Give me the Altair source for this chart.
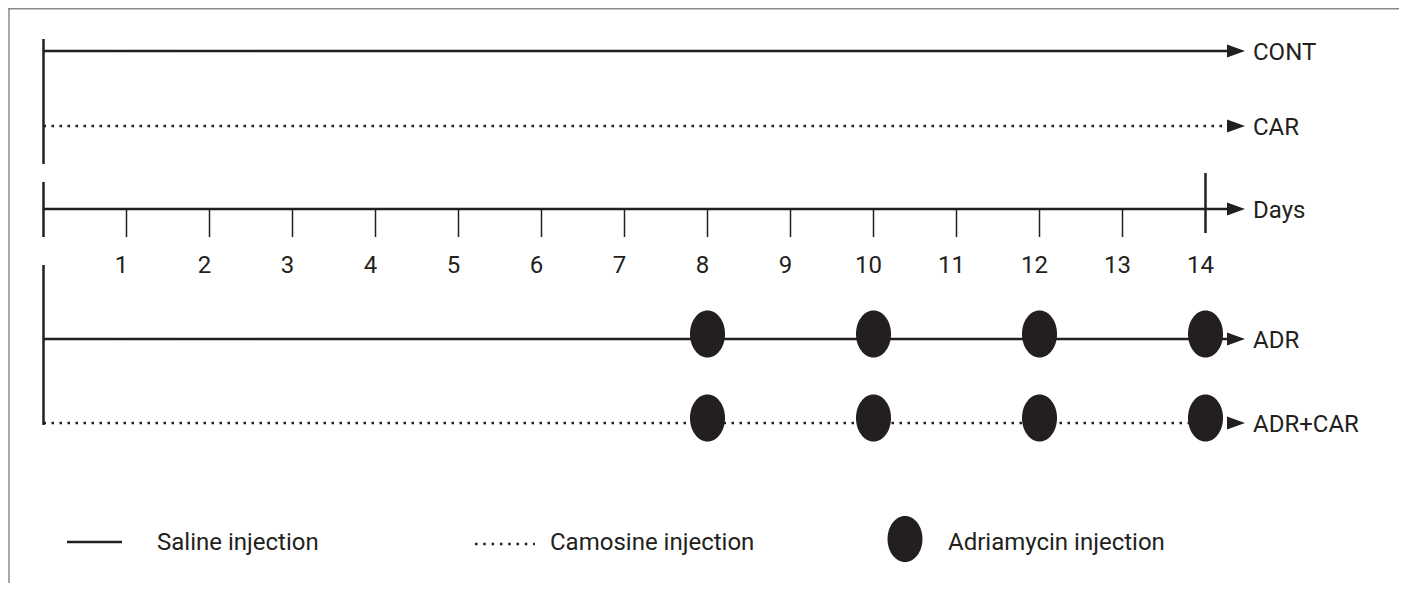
import altair as alt
import pandas as pd

# ---------------- data ----------------
groups = ["CONT", "CAR", "ADR", "ADR+CAR"]
group_injection = ["Saline", "Camosine", "Saline", "Camosine"]
adr_groups = ["ADR", "ADR+CAR"]
adr_days = [8, 10, 12, 14]
day_ticks = list(range(1, 15))
start_day = 0
end_day = 14
axis_label = "Days"
legend_labels = ["Saline injection", "Camosine injection", "Adriamycin injection"]

# ---------------- layout (pixels / styles) ----------------
W, H = 1391, 575
X0 = 35.5          # pixel of day 0
PX_PER_DAY = 83.0
INK = "#231f20"
FONT = "Roboto"
FS = 24
ARROW_BASE_DAY = (1219 - X0) / PX_PER_DAY
ARROW_CENTER_DAY = (1228 - X0) / PX_PER_DAY
LABEL_DAY = (1245 - X0) / PX_PER_DAY
ROW_Y = {"CONT": 43, "CAR": 118, "Days": 201, "ADR": 331, "ADR+CAR": 415}
GROUP_BARS = [(31, 156), (174, 229), (257, 417)]
TICK_Y = (201, 229)
END_TICK_Y = (165, 225)
DAY_LABEL_Y = 265
ARROW_PATH = "M-1,-0.72 L1,0 L-1,0.72 Z"
ELLIPSE_PATH = "M-0.745,0 A0.745,1 0 1,1 0.745,0 A0.745,1 0 1,1 -0.745,0 Z"
LEG_ELLIPSE_PATH = "M-0.76,0 A0.76,1 0 1,1 0.76,0 A0.76,1 0 1,1 -0.76,0 Z"

xs = alt.Scale(domain=[-X0 / PX_PER_DAY, (W - X0) / PX_PER_DAY], nice=False, zero=False)
ys = alt.Scale(domain=[0, H], range=[0, H], nice=False, zero=False)
X = lambda f: alt.X(f, type="quantitative", scale=xs, axis=None)
Y = lambda f: alt.Y(f, type="quantitative", scale=ys, axis=None)

dash_scale = alt.Scale(domain=["Saline", "Camosine"], range=[[1, 0], [2.5, 5.5]])
width_scale = alt.Scale(domain=["Saline", "Camosine"], range=[2.5, 2.5])

# group lines
lines_df = pd.DataFrame({
    "group": groups,
    "injection": group_injection,
    "x": [start_day] * len(groups),
    "x2": [ARROW_BASE_DAY] * len(groups),
    "y": [ROW_Y[g] for g in groups],
})
group_lines = alt.Chart(lines_df).mark_rule(color=INK, strokeCap="butt").encode(
    x=X("x"), x2="x2", y=Y("y"),
    strokeDash=alt.StrokeDash("injection:N", scale=dash_scale, legend=None),
    strokeWidth=alt.StrokeWidth("injection:N", scale=width_scale, legend=None),
)

# days axis line
axis_df = pd.DataFrame({"x": [start_day], "x2": [ARROW_BASE_DAY], "y": [ROW_Y["Days"]]})
axis_line = alt.Chart(axis_df).mark_rule(color=INK, strokeWidth=2.5).encode(
    x=X("x"), x2="x2", y=Y("y"))

# arrowheads and labels
all_rows = ["CONT", "CAR", axis_label, "ADR", "ADR+CAR"]
arrow_df = pd.DataFrame({
    "label": all_rows,
    "x": [ARROW_CENTER_DAY] * len(all_rows),
    "lx": [LABEL_DAY] * len(all_rows),
    "y": [ROW_Y["Days" if r == axis_label else r] for r in all_rows],
})
arrows = alt.Chart(arrow_df).mark_point(
    shape=ARROW_PATH, filled=True, size=324, color=INK, opacity=1, strokeWidth=0
).encode(x=X("x"), y=Y("y"))
row_labels = alt.Chart(arrow_df).mark_text(
    align="left", baseline="alphabetic", dy=9, font=FONT, fontSize=FS, color=INK
).encode(x=X("lx"), y=Y("y"), text="label:N")

# vertical start bars at day 0
bars_df = pd.DataFrame({
    "x": [start_day] * len(GROUP_BARS),
    "y": [b[0] for b in GROUP_BARS],
    "y2": [b[1] for b in GROUP_BARS],
})
start_bars = alt.Chart(bars_df).mark_rule(color=INK, strokeWidth=2.5).encode(
    x=X("x"), y=Y("y"), y2="y2")

# day ticks
ticks_df = pd.DataFrame({"day": day_ticks})
small_ticks = alt.Chart(ticks_df).transform_filter(
    alt.datum.day < end_day
).mark_rule(color=INK, strokeWidth=1.5).encode(
    x=X("day"), y=alt.value(TICK_Y[0]), y2=alt.value(TICK_Y[1]))
end_tick = alt.Chart(ticks_df).transform_filter(
    alt.datum.day == end_day
).mark_rule(color=INK, strokeWidth=2.5).encode(
    x=X("day"), y=alt.value(END_TICK_Y[0]), y2=alt.value(END_TICK_Y[1]))
tick_labels = alt.Chart(ticks_df).mark_text(
    baseline="alphabetic", dx=-5, font=FONT, fontSize=FS, color=INK
).encode(x=X("day"), y=alt.value(DAY_LABEL_Y), text="day:Q")

# adriamycin injections
inj_df = pd.DataFrame(
    [{"group": g, "day": d, "y": ROW_Y[g]} for g in adr_groups for d in adr_days]
)
injections = alt.Chart(inj_df).mark_point(
    shape=ELLIPSE_PATH, filled=True, size=47 * 47, color=INK, opacity=1,
    strokeWidth=0, yOffset=-5
).encode(x=X("day"), y=Y("y"))

# legend (manual)
leg_solid = alt.Chart(pd.DataFrame({"a": [0]})).mark_rule(
    color=INK, strokeWidth=2.5).encode(
    x=alt.value(59), x2=alt.value(114), y=alt.value(534))
leg_dotted = alt.Chart(pd.DataFrame({"a": [0]})).mark_rule(
    color=INK, strokeWidth=2.5, strokeDash=[2.5, 5.8]).encode(
    x=alt.value(467), x2=alt.value(527), y=alt.value(536))
leg_ell = alt.Chart(pd.DataFrame({"a": [0]})).mark_point(
    shape=LEG_ELLIPSE_PATH, filled=True, size=46 * 46, color=INK, opacity=1,
    strokeWidth=0).encode(x=alt.value(897), y=alt.value(531))
leg_text_df = pd.DataFrame({"label": legend_labels, "px": [149, 542, 940]})
leg_text = alt.Chart(leg_text_df).mark_text(
    align="left", baseline="alphabetic", font=FONT, fontSize=FS, color=INK
).encode(x=alt.X("px:Q", scale=None), y=alt.value(542), text="label:N")

# frame (top and left edges)
frame_top = alt.Chart(pd.DataFrame({"a": [0]})).mark_rule(
    color="#8a8a8a", strokeWidth=1.5).encode(
    x=alt.value(0), x2=alt.value(W), y=alt.value(0.75))
frame_left = alt.Chart(pd.DataFrame({"a": [0]})).mark_rule(
    color="#8a8a8a", strokeWidth=1.5).encode(
    x=alt.value(1), y=alt.value(0), y2=alt.value(H))

chart = alt.layer(
    frame_top, frame_left,
    group_lines, axis_line, start_bars, small_ticks, end_tick,
    arrows, row_labels, tick_labels, injections,
    leg_solid, leg_dotted, leg_ell, leg_text,
).resolve_scale(x="shared", y="shared").properties(
    width=W, height=H, padding=0, autosize=alt.AutoSizeParams(type="none")
).configure_view(stroke=None)

chart.save("out.html", embed_options={"renderer": "svg", "actions": False})
